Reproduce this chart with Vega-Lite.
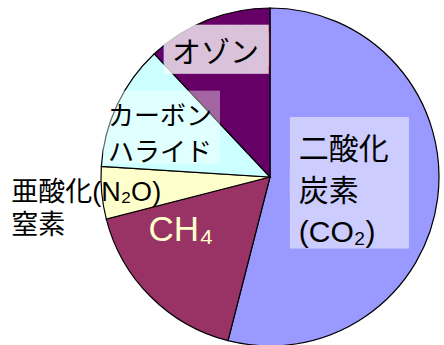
{
  "$schema": "https://vega.github.io/schema/vega-lite/v6.json",
  "width": 338,
  "height": 338,
  "autosize": {"type": "none"},
  "padding": {"left": 101, "top": 8, "right": 5, "bottom": 0},
  "background": "white",
  "config": {"view": {"stroke": null}},
  "data": {
    "values": [
      {"gas": "CO2", "label": "二酸化\n炭素\n(CO₂)", "share": 54, "n": 1},
      {"gas": "CH4", "label": "CH₄", "share": 17, "n": 2},
      {"gas": "N2O", "label": "亜酸化(N₂O)\n窒素", "share": 5, "n": 3},
      {"gas": "halocarbon", "label": "カーボン\nハライド", "share": 12, "n": 4},
      {"gas": "ozone", "label": "オゾン", "share": 12, "n": 5}
    ]
  },
  "encoding": {
    "theta": {"field": "share", "type": "quantitative", "stack": true},
    "order": {"field": "n", "type": "quantitative"},
    "detail": {"field": "gas", "type": "nominal"}
  },
  "layer": [
    {
      "mark": {"type": "arc", "stroke": "black", "strokeWidth": 1.2},
      "encoding": {
        "color": {
          "field": "gas",
          "type": "nominal",
          "scale": {
            "domain": ["CO2", "CH4", "N2O", "halocarbon", "ozone"],
            "range": ["#9999ff", "#993366", "#ffffcc", "#ccffff", "#660066"]
          },
          "legend": null
        }
      }
    },
    {
      "mark": {"type": "text", "font": "DejaVu Sans Mono", "fontSize": 65.3, "lineHeight": 54, "lineBreak": "\n", "align": "center", "baseline": "middle", "fill": "white", "opacity": 0.5, "radius": 80, "dy": -29},
      "encoding": {"text": {"condition": {"test": "datum.gas === 'CO2'", "value": "███\n███"}, "value": ""}}
    },
    {
      "mark": {"type": "text", "font": "DejaVu Sans Mono", "fontSize": 34.55, "lineHeight": 7.8, "lineBreak": "\n", "align": "center", "baseline": "middle", "fill": "white", "opacity": 0.76, "radius": 135, "dx": -4, "dy": -4.4},
      "encoding": {"text": {"condition": {"test": "datum.gas === 'ozone'", "value": "█████\n█████"}, "value": ""}}
    },
    {
      "mark": {"type": "text", "font": "DejaVu Sans Mono", "fontSize": 48.2, "lineHeight": 15.9, "lineBreak": "\n", "align": "center", "baseline": "middle", "fill": "white", "opacity": 0.4, "radius": 118, "dx": -2, "dy": -5},
      "encoding": {"text": {"condition": {"test": "datum.gas === 'halocarbon'", "value": "████\n████"}, "value": ""}}
    },
    {
      "mark": {"type": "text", "font": "Liberation Sans, Noto Sans CJK JP", "fontSize": 30, "lineHeight": 41.5, "lineBreak": "\n", "align": "left", "baseline": "middle", "fill": "black", "radius": 30, "dx": -1, "dy": -30.5},
      "encoding": {"text": {"condition": {"test": "datum.gas === 'CO2'", "field": "label"}, "value": ""}}
    },
    {
      "mark": {"type": "text", "font": "Liberation Sans, Noto Sans CJK JP", "fontSize": 35, "align": "center", "baseline": "middle", "fill": "#ffffcc", "radius": 95, "dx": -22, "dy": -14},
      "encoding": {"text": {"condition": {"test": "datum.gas === 'CH4'", "field": "label"}, "value": ""}}
    },
    {
      "mark": {"type": "text", "font": "Liberation Sans, Noto Sans CJK JP", "fontSize": 27, "lineHeight": 33, "lineBreak": "\n", "align": "left", "baseline": "middle", "fill": "black", "radius": 260, "dx": 0, "dy": -8.5},
      "encoding": {"text": {"condition": {"test": "datum.gas === 'N2O'", "field": "label"}, "value": ""}}
    },
    {
      "mark": {"type": "text", "font": "Liberation Sans, Noto Sans CJK JP", "fontSize": 26, "lineHeight": 36, "lineBreak": "\n", "align": "center", "baseline": "middle", "fill": "black", "radius": 115, "dx": -6, "dy": -11},
      "encoding": {"text": {"condition": {"test": "datum.gas === 'halocarbon'", "field": "label"}, "value": ""}}
    },
    {
      "mark": {"type": "text", "font": "Liberation Sans, Noto Sans CJK JP", "fontSize": 29, "align": "center", "baseline": "middle", "fill": "black", "radius": 132, "dx": -6, "dy": -0.5},
      "encoding": {"text": {"condition": {"test": "datum.gas === 'ozone'", "field": "label"}, "value": ""}}
    }
  ]
}
